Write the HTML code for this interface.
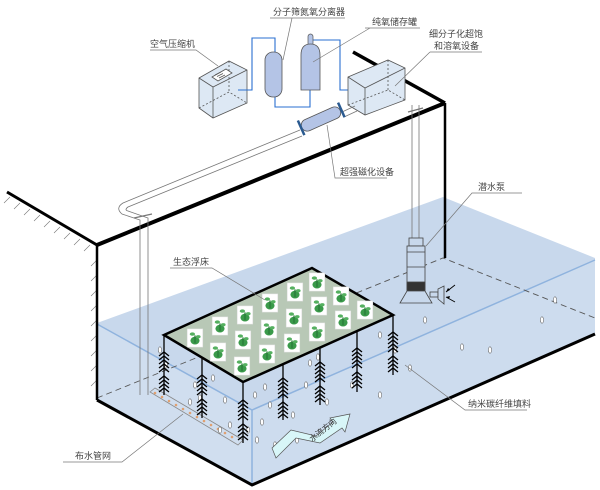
<!DOCTYPE html>
<html><head><meta charset="utf-8"><style>
html,body{margin:0;padding:0;background:#fff;}
svg{display:block;font-family:"Liberation Sans","Noto Sans CJK SC",sans-serif;}
text{font-size:9px;fill:#444;}
</style></head><body>
<svg width="600" height="490" viewBox="0 0 600 490" xmlns="http://www.w3.org/2000/svg">
<defs>
<g id="pl0"><rect x="-6" y="-7" width="12" height="14" fill="#fff" stroke="#ddd" stroke-width="0.4"/><ellipse cx="0" cy="2" rx="3.5" ry="3" fill="#3a9a4a"/><ellipse cx="-2" cy="-3" rx="2" ry="1.3" fill="#55b060"/><ellipse cx="2.5" cy="-1" rx="1.8" ry="1.2" fill="#55b060"/><rect x="-0.5" y="-2" width="1" height="6" fill="#2a7a3a"/></g>
<g id="pl"><use href="#pl0" transform="scale(1.3)"/></g>
<g id="fb" fill="none" stroke="#000" stroke-width="1.3">
<path d="M-5,4 L0,0 L5,4 M-5,8 L0,4 L5,8 M-5,12 L0,8 L5,12 M-5,16 L0,12 L5,16 M-5,20 L0,16 L5,20 M-5,28 L0,24 L5,28 M-5,32 L0,28 L5,32 M-5,36 L0,32 L5,36 M-5,40 L0,36 L5,40"/>
</g>
<ellipse id="b" rx="1.6" ry="3.2" fill="#fff" stroke="#666" stroke-width="0.6"/>
</defs>

<g stroke="#777" stroke-width="0.6">
<path d="M10,197 l-6,6 M20,203 l-6,6 M30,209 l-6,6 M40,215 l-6,6 M50,221 l-6,6 M60,227 l-6,6 M70,233 l-6,6 M80,239 l-6,6 M90,245 l-6,6"/>
<path d="M97,260 l-6,6 M97,275 l-6,6 M97,290 l-6,6 M97,305 l-6,6 M97,320 l-6,6 M97,335 l-6,6 M97,350 l-6,6 M97,365 l-6,6 M97,380 l-6,6"/>
</g>

<polygon points="97,323 443,197 595,258 595,334 252,485 97,400" fill="#c8d8ec"/>
<polygon points="97,323 252,410 252,485 97,400" fill="#d0deef"/>
<polygon points="252,410 595,260 595,334 252,485" fill="#cddcee"/>
<path d="M97,324 L252,410 L595,260" fill="none" stroke="#8fb3de" stroke-width="1.5"/>
<line x1="252" y1="410" x2="252" y2="485" stroke="#8fb3de" stroke-width="1.5"/>
<path d="M97,398 L443,258 L595,318" fill="none" stroke="#555" stroke-width="0.9" stroke-dasharray="6,4"/>

<line x1="7" y1="192" x2="97" y2="245" stroke="#000" stroke-width="3"/>
<line x1="97" y1="245" x2="445" y2="103" stroke="#000" stroke-width="4"/>
<line x1="353" y1="52" x2="445" y2="103" stroke="#000" stroke-width="3.5"/>
<line x1="445" y1="103" x2="445" y2="258" stroke="#000" stroke-width="2.5"/>
<line x1="97" y1="245" x2="97" y2="400" stroke="#000" stroke-width="2.5"/>
<path d="M97,400 L252,485 L595,334" fill="none" stroke="#000" stroke-width="3"/>

<path d="M300,130 L123,203 Q115,208 122,214 L140,220 L140,395" fill="none" stroke="#777" stroke-width="0.8"/>
<path d="M302,136 L128,207 Q124,210 128,211 L148,218 L148,395" fill="none" stroke="#777" stroke-width="0.8"/>
<polygon points="150,392 155,388 243,440 238,445" fill="none" stroke="#888" stroke-width="0.8"/>
<g fill="#e0a070"><circle cx="155" cy="393" r="1.3"/><circle cx="162" cy="397" r="1.3"/><circle cx="169" cy="401" r="1.3"/><circle cx="176" cy="405" r="1.3"/><circle cx="183" cy="409" r="1.3"/><circle cx="190" cy="413" r="1.3"/><circle cx="197" cy="417" r="1.3"/><circle cx="204" cy="421" r="1.3"/><circle cx="211" cy="425" r="1.3"/><circle cx="218" cy="429" r="1.3"/><circle cx="225" cy="433" r="1.3"/><circle cx="232" cy="437" r="1.3"/></g>

<line x1="412" y1="105" x2="412" y2="240" stroke="#777" stroke-width="0.8"/>
<line x1="419" y1="105" x2="419" y2="240" stroke="#777" stroke-width="0.8"/>
<line x1="408" y1="112" x2="423" y2="108" stroke="#777" stroke-width="1.2"/>
<line x1="134" y1="218" x2="152" y2="214" stroke="#777" stroke-width="1.2"/>

<g stroke="#444" stroke-width="0.8" fill="#c8d8ec">
<rect x="409" y="238" width="14" height="8"/>
<rect x="407" y="246" width="18" height="44"/>
<line x1="407" y1="252" x2="425" y2="252"/><line x1="407" y1="267" x2="425" y2="267"/>
<rect x="407" y="282" width="18" height="9" fill="#333"/>
<polygon points="407,291 425,291 432,303 400,303"/>
<rect x="430" y="292" width="8" height="5"/>
<polygon points="438,289 444,286 444,304 438,299"/>
</g>
<path d="M455,285 L446,292 M455,302 L446,297" stroke="#000" stroke-width="0.9"/>
<path d="M446,292 l2,-4 l2,2 z M446,297 l4,-1 l-1,3 z" fill="#000"/>

<g>
<use href="#b" x="425" y="320"/><use href="#b" x="462" y="347"/><use href="#b" x="490" y="350"/><use href="#b" x="380" y="335"/><use href="#b" x="356" y="312"/><use href="#b" x="335" y="338"/><use href="#b" x="318" y="357"/><use href="#b" x="306" y="385"/><use href="#b" x="293" y="415"/><use href="#b" x="310" y="363"/><use href="#b" x="270" y="405"/><use href="#b" x="262" y="422"/><use href="#b" x="297" y="440"/><use href="#b" x="275" y="445"/><use href="#b" x="230" y="370"/><use href="#b" x="213" y="378"/><use href="#b" x="195" y="385"/><use href="#b" x="200" y="398"/><use href="#b" x="190" y="402"/><use href="#b" x="225" y="400"/><use href="#b" x="230" y="425"/><use href="#b" x="220" y="430"/><use href="#b" x="248" y="430"/><use href="#b" x="255" y="395"/><use href="#b" x="265" y="387"/><use href="#b" x="160" y="350"/><use href="#b" x="166" y="365"/><use href="#b" x="352" y="385"/><use href="#b" x="380" y="395"/><use href="#b" x="395" y="350"/><use href="#b" x="257" y="440"/><use href="#b" x="327" y="402"/><use href="#b" x="542" y="320"/><use href="#b" x="555" y="300"/><use href="#b" x="410" y="368"/>
</g>

<g stroke="#000" stroke-width="1.3">
<line x1="164" y1="335" x2="164" y2="395"/><line x1="202" y1="358" x2="202" y2="418"/><line x1="243" y1="382" x2="243" y2="443"/><line x1="283" y1="364" x2="283" y2="420"/><line x1="320" y1="348" x2="320" y2="405"/><line x1="357" y1="332" x2="357" y2="392"/><line x1="393" y1="315" x2="393" y2="375"/>
</g>
<use href="#fb" x="164" y="352"/><use href="#fb" x="202" y="375"/><use href="#fb" x="243" y="400"/><use href="#fb" x="283" y="378"/><use href="#fb" x="320" y="362"/><use href="#fb" x="357" y="348"/><use href="#fb" x="393" y="332"/>

<polygon points="164,335 312,268 393,315 243,382" fill="#b8c8b6" stroke="#000" stroke-width="2.5"/>
<g>
<use href="#pl" x="195" y="338"/><use href="#pl" x="220" y="326"/><use href="#pl" x="245" y="315"/><use href="#pl" x="270" y="303"/><use href="#pl" x="295" y="292"/><use href="#pl" x="317" y="282"/>
<use href="#pl" x="218" y="352"/><use href="#pl" x="243" y="340"/><use href="#pl" x="269" y="329"/><use href="#pl" x="294" y="318"/><use href="#pl" x="319" y="306"/><use href="#pl" x="341" y="296"/>
<use href="#pl" x="242" y="366"/><use href="#pl" x="267" y="354"/><use href="#pl" x="292" y="343"/><use href="#pl" x="317" y="332"/><use href="#pl" x="343" y="320"/><use href="#pl" x="365" y="310"/>
</g>

<polygon points="272,448 291,430 316,436 333,422 330,418 350,414 345,432 342,428 320,443 296,438 276,458" fill="#d8f6f8" stroke="#555" stroke-width="0.7"/>
<text x="312" y="442" transform="rotate(-38 312 442)" style="font-size:8px;fill:#333">水流方向</text>

<g stroke="#555" stroke-width="0.8" fill="#dde8f4">
<polygon points="199,78 229,61 247,70 247,103 213,118 199,108"/>
<polyline points="199,78 213,87 247,70" fill="none"/>
<line x1="213" y1="87" x2="213" y2="118"/>
<path d="M199,108 L229,92 L247,103 M229,61 L229,92" fill="none" stroke-dasharray="2,2"/>
<polygon points="212,77 226,69 232,73 218,81" fill="#fff"/>
<path d="M215,75 l6,-3 M217,76.5 l6,-3 M219,78 l6,-3" fill="none"/>
</g>
<path d="M238,90 L252,90 L252,38 L275,38 L275,52 M275,97 L275,107 L310,107 L310,90 M313,40 L340,40 L340,90 L350,90" fill="none" stroke="#2a6fd0" stroke-width="1.1"/>
<polygon points="348,86 356,90 348,94" fill="#2a6fd0"/>
<rect x="265" y="52" width="17" height="45" rx="8" fill="#b4c4e6" stroke="#555" stroke-width="0.8"/>
<rect x="308" y="34" width="5" height="12" rx="2.5" fill="#b4c4e6" stroke="#555" stroke-width="0.7"/>
<path d="M301,90 L301,55 Q301,44 310.5,44 Q320,44 320,55 L320,90 Z" fill="#b4c4e6" stroke="#555" stroke-width="0.8"/>
<g stroke="#555" stroke-width="0.8" fill="#dde8f4">
<polygon points="348,77 388,60 405,68 405,100 365,115 348,105"/>
<polyline points="348,77 365,88 405,68" fill="none"/>
<line x1="365" y1="88" x2="365" y2="115"/>
<path d="M348,105 L388,90 L405,100 M388,60 L388,90" fill="none" stroke-dasharray="2,2"/>
</g>
<line x1="342" y1="112" x2="355" y2="106" stroke="#777" stroke-width="0.8"/>
<line x1="344" y1="117" x2="357" y2="111" stroke="#777" stroke-width="0.8"/>
<g transform="rotate(-24 321 119)">
<rect x="300" y="113" width="42" height="12" rx="6" fill="#b4c4e6" stroke="#555" stroke-width="0.8"/>
<rect x="298" y="111" width="2.5" height="16" fill="#2a5a90"/>
<rect x="342" y="111" width="2.5" height="16" fill="#2a5a90"/>
</g>

<g stroke="#777" stroke-width="0.7" fill="none">
<path d="M270,18 L345,18 M283,60 L292,18"/>
<path d="M365,28 L420,28 M313,62 L370,28"/>
<path d="M430,52 L482,52 M395,86 L430,52"/>
<path d="M150,50 L196,50 L218,66"/>
<path d="M387,178 L335,178 L327,125"/>
<path d="M522,193 L472,193 L426,246"/>
<path d="M170,268 L212,268 L265,300"/>
<path d="M527,410 L465,410 L405,365"/>
<path d="M63,462 L122,462 L183,414"/>
</g>
<text x="273" y="15">分子筛氮氧分离器</text>
<text x="372" y="25">纯氧储存罐</text>
<text x="429" y="37">细分子化超饱</text>
<text x="434" y="49">和溶氧设备</text>
<text x="150" y="47">空气压缩机</text>
<text x="340" y="175">超强磁化设备</text>
<text x="478" y="190">潜水泵</text>
<text x="173" y="265">生态浮床</text>
<text x="468" y="407">纳米碳纤维填料</text>
<text x="75" y="459">布水管网</text>
</svg>
</body></html>
